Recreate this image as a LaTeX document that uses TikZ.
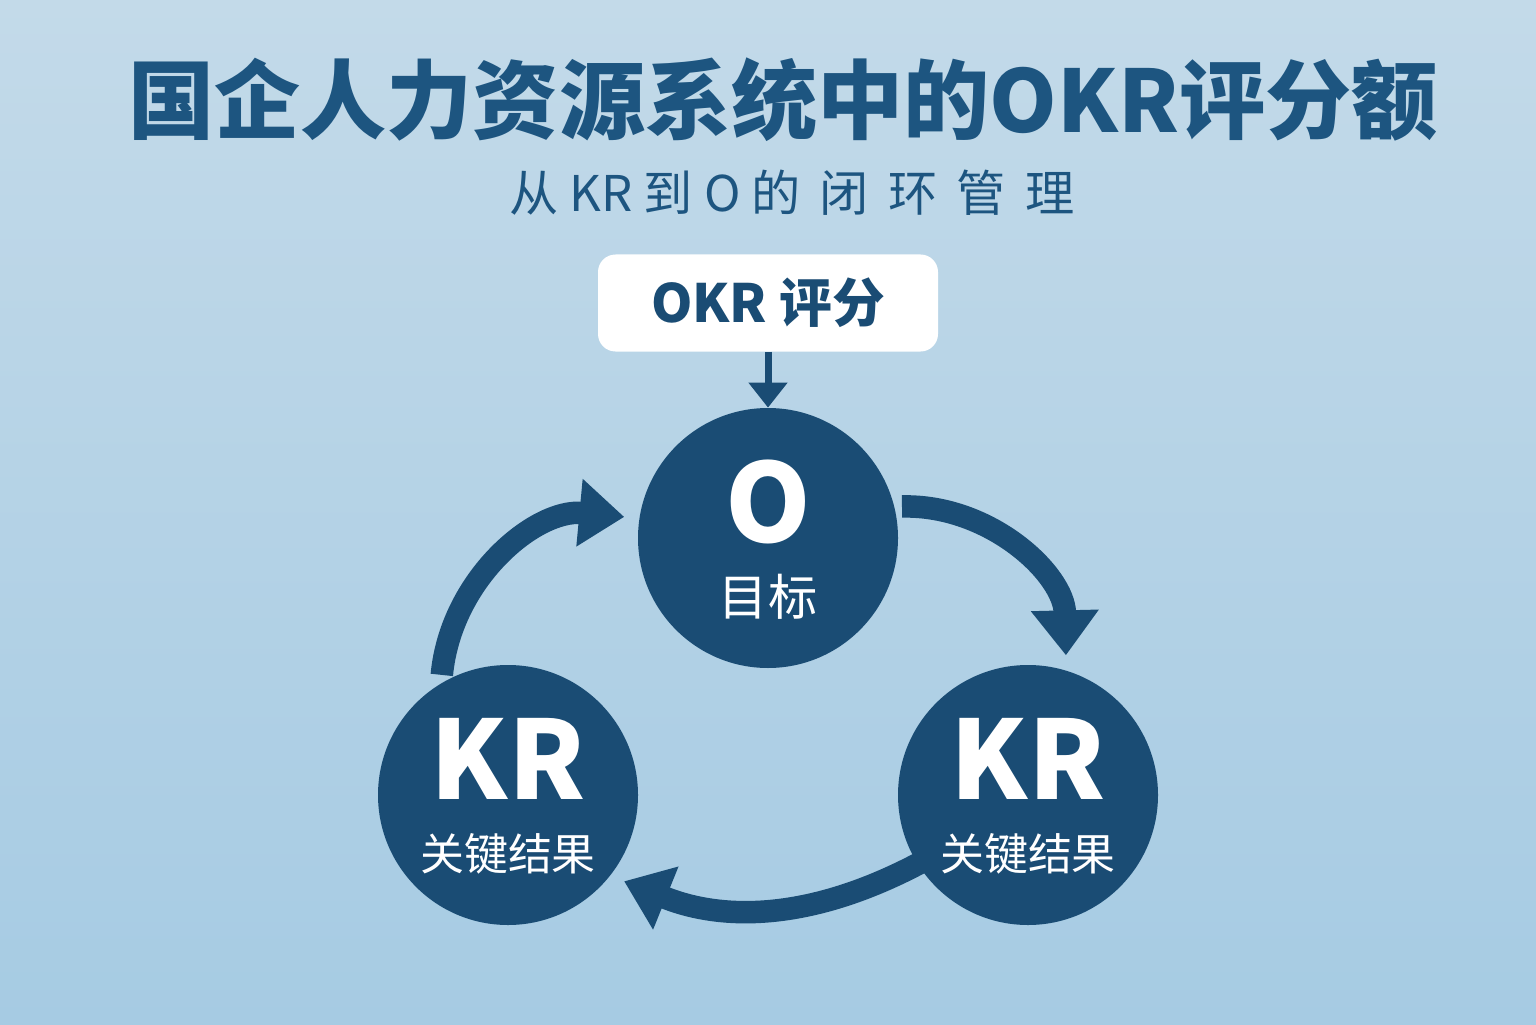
\documentclass[tikz,border=0pt]{standalone}
\usepackage{fontspec}
\setmainfont{Noto Sans CJK SC}
\usetikzlibrary{arrows.meta,positioning}
\definecolor{navy}{HTML}{1A4C74}
\definecolor{titleblue}{HTML}{1D5580}
\definecolor{bgtop}{HTML}{C3DAE9}
\definecolor{bgbot}{HTML}{A6CBE3}
\tikzset{
  circ/.style={circle,fill=navy,minimum size=5.2cm,inner sep=0pt},
  big/.style={text=white,font=\fontsize{62}{62}\selectfont\bfseries},
  small/.style={text=white,font=\fontsize{25}{28}\selectfont},
  loop/.style={navy,line width=0.45cm,-{Triangle[width=1.3cm,length=0.9cm]},shorten >=0.15cm},
}
\begin{document}
\begin{tikzpicture}
  \shade[top color=bgtop,bottom color=bgbot] (0,0) rectangle (30.72,20.48);
  \useasboundingbox (0,0) rectangle (30.72,20.48);
  % titles
  \node (title) at (15.66,18.48) {\fontsize{49}{54}\selectfont\bfseries\color{titleblue}国企人力资源系统中的OKR评分额};
  \node (sub) at (15.84,16.62) {\fontsize{28}{32}\selectfont\color{titleblue}从\ KR\ 到\ O\ 的\ \,闭\ \,环\ \,管\ \,理};
  \node[fill=white,rounded corners=0.35cm,minimum width=6.8cm,minimum height=1.94cm] (score) at (15.36,14.42)
    {\fontsize{30}{34}\selectfont\bfseries\color{navy}OKR 评分};
  % circles
  \node[circ] (o) at (15.36,9.72) {};
  \node[circ] (krl) at (10.16,4.58) {};
  \node[circ] (krr) at (20.56,4.58) {};
  \node[big] (olab) at (15.36,10.44) {O};
  \node[small,font=\fontsize{28}{30}\selectfont] (otxt) at (15.36,8.54) {目标};
  \node[big] (krllab) at (10.16,5.3) {KR};
  \node[small] (krltxt) at (10.16,3.4) {关键结果};
  \node[big] (krrlab) at (20.56,5.3) {KR};
  \node[small] (krrtxt) at (20.56,3.4) {关键结果};
  % arrows
  \draw[navy,line width=0.14cm,-{Triangle[width=0.75cm,length=0.5cm]}] (score) -- (o);
  \draw[loop] ([shift={(0.15,0)}]o.14) to[bend left=45] ([shift={(0,0.15)}]krr.73);
  \draw[loop] ([shift={(0,0.15)}]krr.215) to[bend left=25] ([shift={(0.1,-0.1)}]krl.-37);
  \draw[loop] ([shift={(-0.1,0.1)}]krl.118) to[bend left=45] ([shift={(-0.15,0)}]o.171);
\end{tikzpicture}
\end{document}
